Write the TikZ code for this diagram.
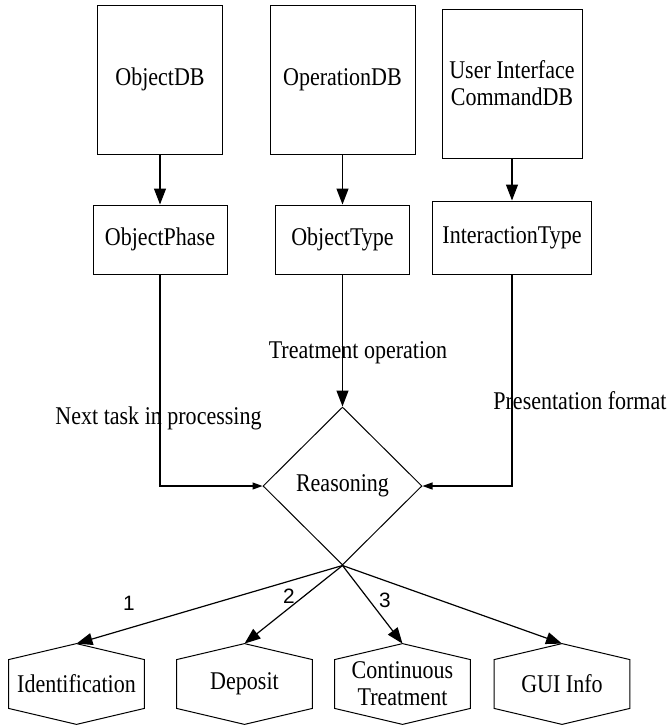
\documentclass[tikz,border=0pt]{standalone}
\usepackage{fontspec}
\setmainfont{Liberation Serif}[FakeStretch=0.863]
\newfontfamily\numfont{Liberation Sans}
\usetikzlibrary{arrows.meta,shapes.geometric,calc}

\begin{document}
\begin{tikzpicture}[x=0.5pt,y=-0.5pt,
  every node/.style={font=\fontsize{12.76}{13.5}\selectfont, inner sep=0pt},
  box/.style={draw, line width=0.5pt, align=center},
  hexbody/.style={minimum width=67.5pt, minimum height=24pt, align=center},
  hexline/.style={draw, line width=0.5pt, line join=miter},
  decision/.style={diamond, draw, line width=0.5pt, minimum width=79.5pt, minimum height=79pt},
  flow/.style={line width=0.6pt, -{Triangle[length=8pt,width=6pt]}},
  sideflow/.style={line width=0.6pt, -{Triangle[length=5pt,width=3.5pt]}},
  num/.style={font=\numfont\fontsize{10.4}{11}\selectfont}]

\useasboundingbox (0,0) rectangle (671,725);

% databases
\node[box, minimum width=62.5pt, minimum height=74.5pt] (odb)  at (160,79.5)   {ObjectDB};
\node[box, minimum width=72.5pt, minimum height=74.5pt] (opdb) at (342.5,79.5) {OperationDB};
\node[box, minimum width=70pt,   minimum height=74.5pt] (uidb) at (512,83.5)   {User Interface\\CommandDB};

% derived types
\node[box, minimum width=67pt,   minimum height=34.5pt] (oph)   at (160,239.5)   {ObjectPhase};
\node[box, minimum width=67pt,   minimum height=34.5pt] (otype) at (342.5,239.5) {ObjectType};
\node[box, minimum width=79.5pt, minimum height=36.5pt] (itype) at (512,237.5)   {InteractionType};

% decision
\node[decision] (reason) at (342.5,486) {Reasoning};

% outcomes
\node[hexbody] (ident) at (76.5,684)  {Identification};
\node[hexbody] (depo)  at (244.5,684) {Deposit};
\node[hexbody] (cont)  at (402.5,684) {Continuous\\Treatment};
\node[hexbody] (gui)   at (562,684)   {GUI Info};

\foreach \h in {ident,depo,cont,gui}{
  \coordinate (\h-tip) at ($(\h.north)+(0,-16)$);
  \draw[hexline] (\h.north west) -- (\h-tip) -- (\h.north east) -- (\h.south east)
     -- ($(\h.south)+(0,16)$) -- (\h.south west) -- cycle;
}

% connectors
\draw[flow] (odb.south)  -- (oph.north);
\draw[flow] (opdb.south) -- (otype.north);
\draw[flow] (uidb.south) -- (itype.north);
\draw[sideflow] (oph.south) |- (reason.west);
\draw[flow] (otype.south) -- (reason.north);
\draw[sideflow] (itype.south) |- (reason.east);
\foreach \h in {ident,depo,cont,gui}
  \draw[flow] (reason.south) -- (\h-tip);

% labels
\node[anchor=base]      (treat) at (358,358) {Treatment operation};
\node[anchor=base east] (next)  at (262,424) {Next task in processing};
\node[anchor=base west] (pres)  at (493,409) {Presentation format};
\node[num] (n1) at (129,603) {1};
\node[num] (n2) at (289,596) {2};
\node[num] (n3) at (385,600) {3};
\end{tikzpicture}
\end{document}
